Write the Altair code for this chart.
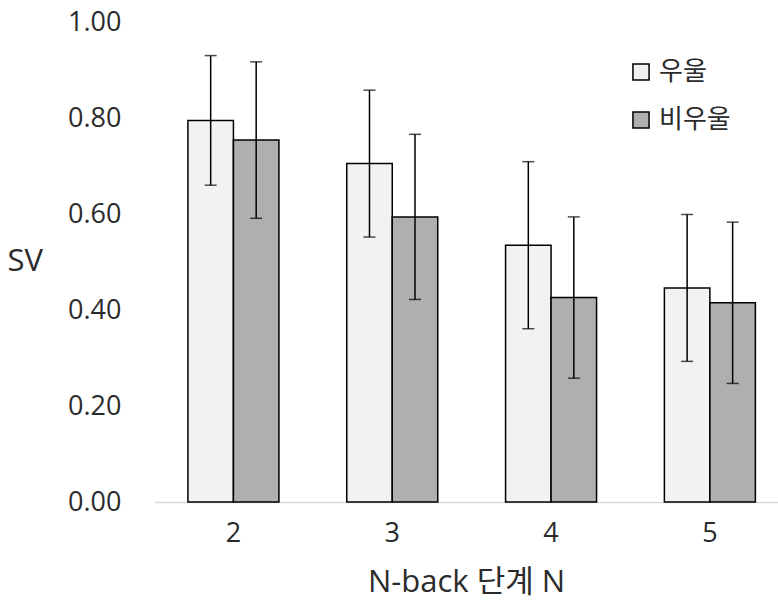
import altair as alt
import pandas as pd

levels = ["2", "3", "4", "5"]
groups = ["우울", "비우울"]
dep_mean = [0.795, 0.705, 0.535, 0.446]
dep_sd = [0.135, 0.153, 0.174, 0.153]
non_mean = [0.754, 0.594, 0.426, 0.415]
non_sd = [0.163, 0.172, 0.168, 0.168]
fills = ["#f2f2f2", "#afafaf"]
y_ticks = [0.0, 0.2, 0.4, 0.6, 0.8, 1.0]

rows = []
for i, n in enumerate(levels):
    rows.append({"N": n, "group": groups[0], "mean": dep_mean[i], "sd": dep_sd[i]})
    rows.append({"N": n, "group": groups[1], "mean": non_mean[i], "sd": non_sd[i]})
df = pd.DataFrame(rows)
df["lo"] = df["mean"] - df["sd"]
df["hi"] = df["mean"] + df["sd"]

FONT = "Open Sans, Noto Sans CJK KR"
TXT = "#2b2b2b"

xenc = alt.X(
    "N:N",
    sort=levels,
    scale=alt.Scale(paddingInner=0.427, paddingOuter=0.178, align=0.6),
    axis=alt.Axis(
        title="N-back 단계 N",
        labelAngle=0,
        ticks=False,
        domainColor="#d9d9d9",
        domainWidth=1.5,
        labelFontSize=27,
        labelPadding=18,
        titleFontSize=31,
        titleFontWeight="normal",
        titleBaseline="alphabetic",
        titleY=89,
        labelColor=TXT,
        titleColor=TXT,
        labelFont=FONT,
        titleFont=FONT,
    ),
)
xoff = alt.XOffset("group:N", sort=groups, scale=alt.Scale(domain=groups, paddingInner=0, paddingOuter=0))
yscale = alt.Scale(domain=[0, 1], nice=False)

bars = alt.Chart(df).mark_bar(stroke="black", strokeWidth=1.5).encode(
    x=xenc,
    xOffset=xoff,
    y=alt.Y(
        "mean:Q",
        scale=yscale,
        axis=alt.Axis(
            title="SV",
            values=y_ticks,
            format=".2f",
            grid=False,
            domain=False,
            ticks=False,
            labelFontSize=27,
            labelPadding=33,
            labelColor=TXT,
            labelFont=FONT,
            titleFont=FONT,
            titleFontSize=31,
            titleFontWeight="normal",
            titleColor=TXT,
            titleAngle=0,
            titleAlign="left",
            titleBaseline="middle",
            titleX=-147,
            titleY=239,
        ),
    ),
    color=alt.Color(
        "group:N",
        sort=groups,
        scale=alt.Scale(domain=groups, range=fills),
        legend=alt.Legend(
            title=None,
            orient="none",
            legendX=474,
            legendY=37,
            symbolType="square",
            symbolSize=260,
            symbolStrokeColor="black",
            symbolStrokeWidth=1.5,
            labelFontSize=26,
            labelFont=FONT,
            labelColor=TXT,
            labelOffset=5,
            rowPadding=22,
        ),
    ),
)

err = alt.Chart(df).mark_rule(color="black", strokeWidth=1.5).encode(
    x=alt.X("N:N", sort=levels),
    xOffset=xoff,
    y=alt.Y("lo:Q", scale=yscale),
    y2="hi:Q",
)
cap_hi = alt.Chart(df).mark_tick(color="black", thickness=1.5, size=12).encode(
    x=alt.X("N:N", sort=levels),
    xOffset=xoff,
    y=alt.Y("hi:Q", scale=yscale),
)
cap_lo = alt.Chart(df).mark_tick(color="black", thickness=1.5, size=12).encode(
    x=alt.X("N:N", sort=levels),
    xOffset=xoff,
    y=alt.Y("lo:Q", scale=yscale),
)

chart = (
    alt.layer(bars, err, cap_hi, cap_lo)
    .properties(
        width=624,
        height=480,
        autosize=alt.AutoSizeParams(type="none"),
        padding={"left": 154, "top": 22, "right": 0, "bottom": 98},
        background="white",
    )
    .configure_view(strokeWidth=0, stroke="transparent")
)

chart.save("out.html", embed_options={"renderer": "svg", "actions": False})
